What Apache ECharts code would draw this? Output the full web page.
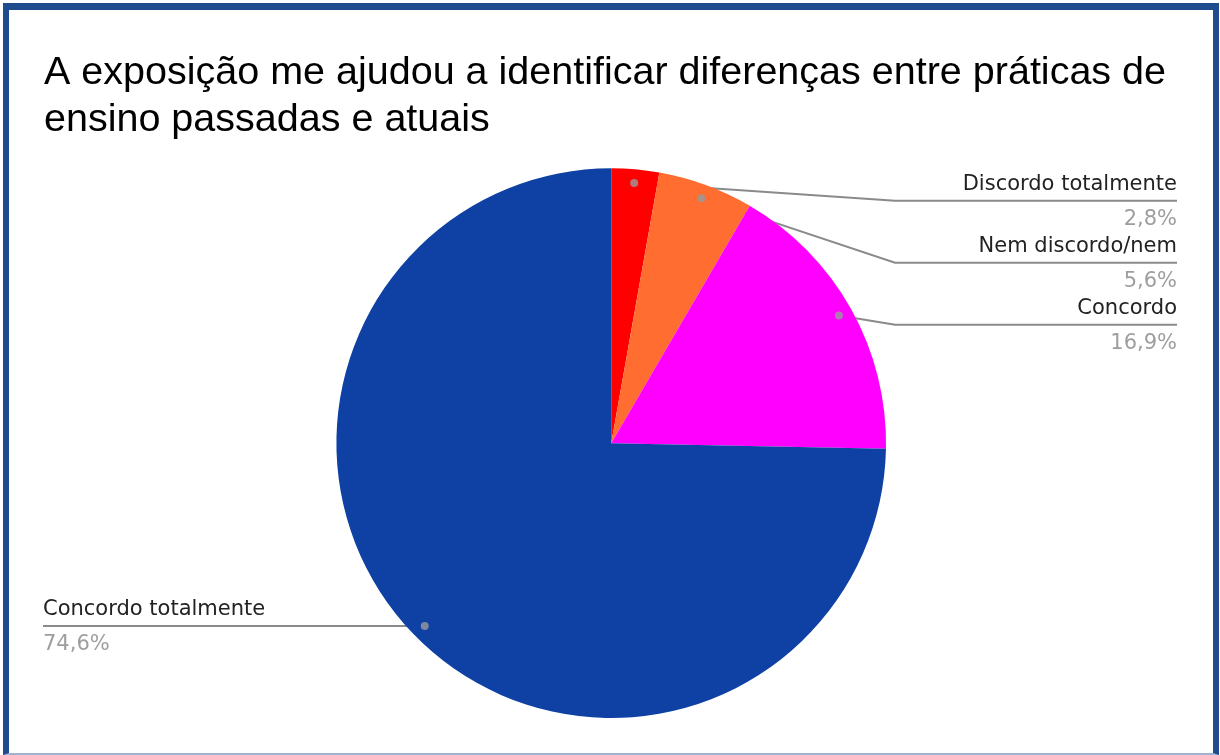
<!DOCTYPE html>
<html><head><meta charset="utf-8">
<script src="https://cdn.jsdelivr.net/npm/echarts@6/dist/echarts.min.js"></script>
<style>
html,body{margin:0;padding:0;background:#fff;}
#wrap{position:relative;width:1220px;height:755px;overflow:hidden;background:#fff;}
#chart{position:absolute;left:0;top:0;width:1220px;height:755px;}
#frame{position:absolute;left:3px;top:3px;width:1216px;height:752px;box-sizing:border-box;border-left:6px solid #1f4b8f;border-right:6px solid #1f4b8f;border-top:7px solid #1f4b8f;border-bottom:2px solid #9fb2d5;pointer-events:none;}
</style></head>
<body><div id="wrap"><div id="chart"></div><div id="frame"></div></div>
<script>
const titleText = 'A exposição me ajudou a identificar diferenças entre práticas de\nensino passadas e atuais';
const categories = ['Discordo totalmente', 'Nem discordo/nem', 'Concordo', 'Concordo totalmente'];
const values = [2.8, 5.6, 16.9, 74.6];
const colors = ['#ff0000', '#ff6d31', '#ff00ff', '#0e41a3'];

const chart = echarts.init(document.getElementById('chart'), null, {renderer: 'canvas'});
const CENTER = ['50.1%', '58.7%'];
const RADIUS_PCT = 0.728;
const DOT_R = 0.95;
const NAME_LH = 26, PCT_LH = 44;

const total = values.reduce((a, b) => a + b, 0);
const mids = [];
let acc = 0;
values.forEach(v => { mids.push(acc + v / 2); acc += v; });

function geom() {
  const w = chart.getWidth(), h = chart.getHeight();
  return {cx: w * parseFloat(CENTER[0]) / 100, cy: h * parseFloat(CENTER[1]) / 100, r: Math.min(w, h) / 2 * RADIUS_PCT};
}

const option = {
  animation: false,
  title: {
    text: titleText, left: 44, top: 50, padding: 0,
    textStyle: {fontFamily: 'Liberation Sans', fontSize: 39.5, fontWeight: 'normal', color: '#000', lineHeight: 47}
  },
  polar: {center: CENTER, radius: (RADIUS_PCT * 100) + '%'},
  angleAxis: {type: 'value', min: 0, max: total, startAngle: 90, clockwise: true, show: false},
  radiusAxis: {type: 'value', min: 0, max: 1, show: false},
  series: [{
    type: 'pie',
    center: CENTER,
    radius: (RADIUS_PCT * 100) + '%',
    startAngle: 90,
    clockwise: true,
    silent: true,
    data: categories.map((n, i) => ({name: n, value: values[i], itemStyle: {color: colors[i]}})),
    label: {
      show: true, position: 'outside', alignTo: 'edge', edgeDistance: 43, minMargin: 6,
      formatter: p => '{n|' + p.name + '}\n{p|' + String(p.value).replace('.', ',') + '%}',
      rich: {
        n: {fontFamily: 'DejaVu Sans', fontSize: 21, color: '#222', lineHeight: NAME_LH},
        p: {fontFamily: 'DejaVu Sans', fontSize: 21, color: '#9e9e9e', lineHeight: PCT_LH}
      }
    },
    labelLine: {show: true, length: -37, length2: 9, lineStyle: {color: '#8a8a8a', width: 2}},
    labelLayout: function (params) {
      const pts = params.labelLinePoints;
      if (!pts) return {};
      const g = geom();
      const rect = params.labelRect;
      const isLeft = rect.x + rect.width / 2 < g.cx;
      const p0 = pts[0];
      const dx = p0[0] - g.cx, dy = p0[1] - g.cy;
      const len = Math.sqrt(dx * dx + dy * dy) || 1;
      const dot = [g.cx + dx / len * g.r * DOT_R, g.cy + dy / len * g.r * DOT_R];
      const ly = rect.y + NAME_LH + 1;
      if (isLeft) {
        return {
          dy: dot[1] - ly,
          labelLinePoints: [dot, [(dot[0] + rect.x) / 2, dot[1]], [rect.x, dot[1]]]
        };
      }
      return {
        labelLinePoints: [dot, [g.cx + g.r + 9, ly], [rect.x + rect.width, ly]]
      };
    }
  }, {
    type: 'scatter',
    coordinateSystem: 'polar',
    silent: true,
    z: 10,
    symbol: 'circle',
    symbolSize: 8,
    itemStyle: {color: '#9a9a9a'},
    data: mids.map(m => [DOT_R, m])
  }]
};
chart.setOption(option);
</script>
</body></html>
